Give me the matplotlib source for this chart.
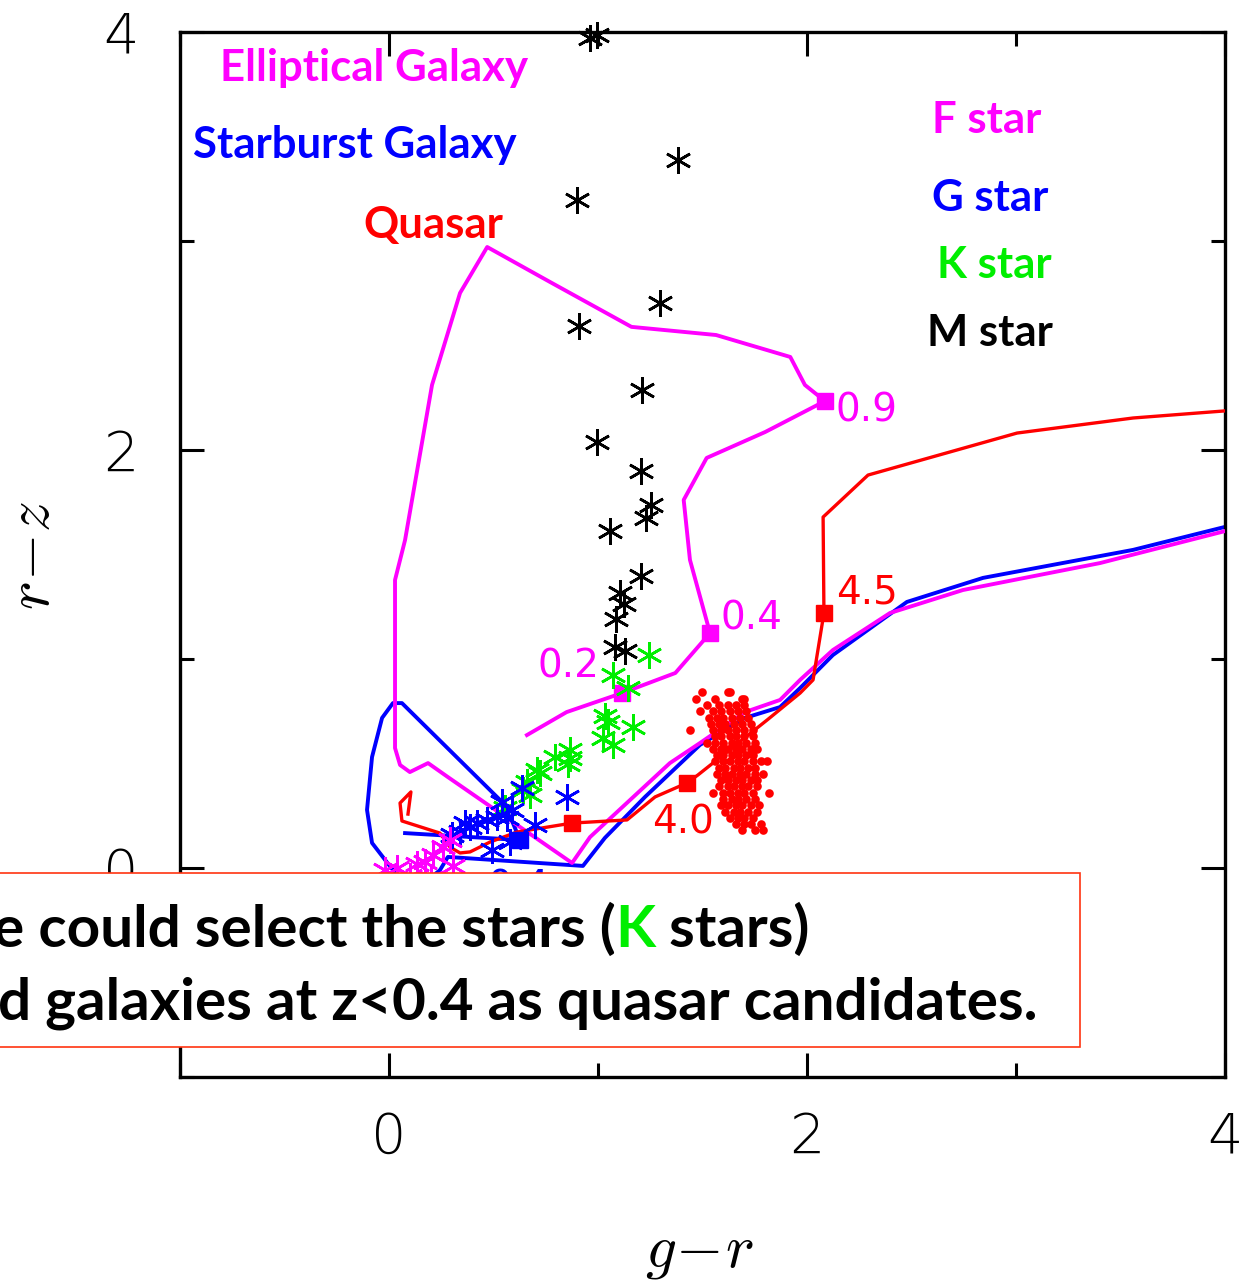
import numpy as np
import matplotlib
matplotlib.use("Agg")
import matplotlib.pyplot as plt
from matplotlib.patches import Rectangle

plt.rcParams["mathtext.fontset"] = "cm"

# --- colour tracks (g-r, r-z) ---
ell_gr = [0.66, 0.85, 1.115, 1.37, 1.536, 1.44, 1.41, 1.52, 1.80, 2.086, 1.99, 1.92,
          1.565, 1.16, 0.77, 0.47, 0.34, 0.206, 0.077, 0.029, 0.029, 0.053, 0.10,
          0.187, 0.282, 0.876, 0.962, 1.344, 1.488, 1.703, 1.871, 1.967, 2.124,
          2.397, 2.746, 3.402, 4.0]
ell_rz = [0.636, 0.746, 0.837, 0.933, 1.124, 1.474, 1.761, 1.962, 2.086, 2.234, 2.311,
          2.445, 2.55, 2.589, 2.804, 2.971, 2.751, 2.311, 1.569, 1.378, 0.574, 0.493,
          0.459, 0.502, 0.435, 0.024, 0.148, 0.502, 0.598, 0.746, 0.804, 0.90, 1.043,
          1.22, 1.33, 1.459, 1.612]
ell_sq_gr = [1.115, 1.536, 2.086]
ell_sq_rz = [0.837, 1.124, 2.234]

sb_gr = [0.077, 0.627, 0.593, 0.541, 0.062, 0.019, -0.033, -0.081, -0.105, -0.081,
         0.019, 0.10, 0.244, 0.282, 0.928, 1.033, 1.225, 1.488, 1.703, 1.871, 1.967,
         2.124, 2.478, 2.842, 3.56, 4.0]
sb_rz = [0.167, 0.134, 0.215, 0.316, 0.789, 0.789, 0.718, 0.531, 0.278, 0.12,
         -0.01, -0.129, -0.01, 0.053, 0.01, 0.144, 0.34, 0.589, 0.718, 0.77, 0.861,
         1.019, 1.273, 1.388, 1.522, 1.632]
sb_sq_gr = [0.627]
sb_sq_rz = [0.134]

qso_gr = [0.091, 0.105, 0.053, 0.062, 0.244, 0.292, 0.34, 0.388, 0.483, 0.612, 0.876,
          1.139, 1.273, 1.426, 1.478, 1.809, 1.967, 2.029, 2.081, 2.077, 2.292, 3.005,
          3.56, 4.0]
qso_rz = [0.258, 0.364, 0.311, 0.225, 0.167, 0.10, 0.072, 0.077, 0.124, 0.172, 0.215,
          0.23, 0.34, 0.407, 0.445, 0.708, 0.837, 0.90, 1.22, 1.679, 1.88, 2.081,
          2.153, 2.187]
qso_sq_gr = [0.876, 1.426, 2.081]
qso_sq_rz = [0.215, 0.407, 1.22]

# --- stellar loci ---
m_gr = [0.962, 0.995, 1.383, 0.90, 1.297, 0.909, 1.211, 0.995, 1.206, 1.254, 1.23,
        1.057, 1.206, 1.105, 1.124, 1.086, 1.081, 1.129]
m_rz = [3.971, 3.986, 3.388, 3.196, 2.703, 2.593, 2.287, 2.038, 1.90, 1.737, 1.675,
        1.612, 1.397, 1.316, 1.263, 1.191, 1.057, 1.038]
k_gr = [1.244, 1.072, 1.144, 1.033, 1.048, 1.167, 1.024, 1.072, 0.866, 0.866, 0.856,
        0.794, 0.722, 0.708, 0.66, 0.641, 0.675, 0.555]
k_rz = [1.019, 0.923, 0.861, 0.727, 0.699, 0.675, 0.622, 0.589, 0.565, 0.526, 0.498,
        0.531, 0.455, 0.469, 0.411, 0.373, 0.349, 0.287]
g_gr = [0.636, 0.541, 0.589, 0.852, 0.699, 0.565, 0.517, 0.469, 0.421, 0.388, 0.364,
        0.34, 0.493, 0.579, 0.301]
g_rz = [0.383, 0.316, 0.278, 0.34, 0.206, 0.239, 0.244, 0.23, 0.215, 0.196, 0.215,
        0.172, 0.086, 0.124, 0.158]
f_gr = [0.292, 0.258, 0.211, 0.172, 0.134, 0.306, 0.038, -0.02, 0.10, 0.20]
f_rz = [0.134, 0.10, 0.062, 0.029, 0.019, 0.01, 0.0, -0.01, -0.04, -0.05]

# --- quasar candidates cloud, read row by row ---
cloud_rows = {
    0.84: [1.50, 1.62, 1.63],
    0.81: [1.47, 1.56, 1.69, 1.70],
    0.78: [1.52, 1.58, 1.62, 1.66, 1.70],
    0.75: [1.49, 1.55, 1.59, 1.63, 1.67, 1.71],
    0.72: [1.53, 1.57, 1.60, 1.64, 1.68, 1.72],
    0.69: [1.54, 1.58, 1.61, 1.65, 1.69, 1.73],
    0.66: [1.44, 1.55, 1.59, 1.62, 1.66, 1.70, 1.74],
    0.63: [1.56, 1.59, 1.63, 1.66, 1.70, 1.74],
    0.60: [1.52, 1.56, 1.60, 1.64, 1.67, 1.71, 1.75],
    0.57: [1.55, 1.59, 1.62, 1.66, 1.69, 1.73, 1.76],
    0.54: [1.57, 1.60, 1.64, 1.67, 1.71, 1.74],
    0.51: [1.56, 1.60, 1.63, 1.67, 1.70, 1.74, 1.78, 1.81],
    0.48: [1.58, 1.61, 1.65, 1.68, 1.72, 1.75],
    0.45: [1.57, 1.61, 1.64, 1.68, 1.71, 1.75, 1.79],
    0.42: [1.59, 1.62, 1.66, 1.69, 1.73, 1.76],
    0.39: [1.58, 1.62, 1.65, 1.69, 1.72, 1.76],
    0.36: [1.55, 1.60, 1.63, 1.67, 1.70, 1.74, 1.82],
    0.33: [1.60, 1.64, 1.67, 1.71, 1.75],
    0.30: [1.59, 1.62, 1.66, 1.69, 1.73, 1.77],
    0.27: [1.61, 1.65, 1.68, 1.72, 1.76],
    0.24: [1.63, 1.67, 1.70, 1.74],
    0.21: [1.66, 1.70, 1.73, 1.78],
    0.18: [1.69, 1.75, 1.79],
}
cloud_gr = [x for y, xs in cloud_rows.items() for x in xs]
cloud_rz = [y for y, xs in cloud_rows.items() for x in xs]

MAG, BLUE, RED, GREEN = "#ff00ff", "#0000ff", "#ff0000", "#00ee00"
AST = (6, 2, 0)
LABEL_FONT = ["Lato", "DejaVu Sans"]
NUM_FONT = ["DejaVu Sans"]

fig = plt.figure(figsize=(12.47, 12.88), dpi=100)
ax = fig.add_axes([0.1443, 0.1638, 0.8381, 0.8114])
ax.set_xlim(-1, 4)
ax.set_ylim(-1, 4)

# tracks
ax.plot(ell_gr, ell_rz, "-", color=MAG, lw=2.8, zorder=3)
ax.plot(sb_gr, sb_rz, "-", color=BLUE, lw=2.8, zorder=2)
ax.plot(qso_gr, qso_rz, "-", color=RED, lw=2.4, zorder=3)
ax.plot(ell_sq_gr, ell_sq_rz, "s", color=MAG, ms=11, zorder=4)
ax.plot(sb_sq_gr, sb_sq_rz, "s", color=BLUE, ms=11, zorder=4)
ax.plot(qso_sq_gr, qso_sq_rz, "s", color=RED, ms=12, zorder=4)

# stars
for gr, rz, c in [(m_gr, m_rz, "black"), (k_gr, k_rz, GREEN),
                  (g_gr, g_rz, BLUE), (f_gr, f_rz, MAG)]:
    ax.plot(gr, rz, ls="none", marker=AST, ms=19, mew=1.9, color=c, zorder=5,
            clip_on=False)

ax.plot(cloud_gr, cloud_rz, "o", color=RED, ms=6.2, mew=0, zorder=6)

# redshift labels
num_kw = dict(family=NUM_FONT, fontsize=28, va="center", ha="left")
ax.text(0.713, 0.962, "0.2", color=MAG, **num_kw)
ax.text(1.584, 1.196, "0.4", color=MAG, **num_kw)
ax.text(2.134, 2.19, "0.9", color=MAG, **num_kw)
ax.text(2.139, 1.316, "4.5", color=RED, **num_kw)
ax.text(1.258, 0.22, "4.0", color=RED, **num_kw)
ax.text(0.47, 0.0, "0.4", color=BLUE, family=NUM_FONT, fontsize=28, va="top", ha="left")

# category names
lab_kw = dict(family=LABEL_FONT, fontsize=31.5, fontweight="bold", va="center", ha="left")
ax.text(-0.809, 3.828, "Elliptical Galaxy", color=MAG, **lab_kw)
ax.text(-0.938, 3.459, "Starburst Galaxy", color=BLUE, **lab_kw)
ax.text(-0.124, 3.077, "Quasar", color=RED, **lab_kw)
ax.text(2.598, 3.579, "F star", color=MAG, **lab_kw)
ax.text(2.598, 3.206, "G star", color=BLUE, **lab_kw)
ax.text(2.622, 2.885, "K star", color=GREEN, **lab_kw)
ax.text(2.574, 2.560, "M star", color="black", **lab_kw)

# axes styling
ax.set_xticks([0, 2, 4])
ax.set_yticks([0, 2, 4])
ax.set_xticks([-1, 1, 3], minor=True)
ax.set_yticks([-1, 1, 3], minor=True)
ax.tick_params(which="both", direction="in", top=True, right=True, width=2.2,
               labelsize=40, color="black")
ax.tick_params(which="major", length=17)
ax.tick_params(which="minor", length=10)
ax.tick_params(axis="x", pad=24)
ax.tick_params(axis="y", pad=30)
for lbl in ax.get_xticklabels() + ax.get_yticklabels():
    lbl.set_family(NUM_FONT)
    lbl.set_fontweight("light")
for sp in ax.spines.values():
    sp.set_linewidth(2.4)

fig.text(0.561, 0.028, r"$g\!-\!r$", fontsize=44, ha="center", va="center")
fig.text(0.026, 0.569, r"$r\!-\!z$", fontsize=44, ha="center", va="center", rotation=90)

# overlay note box
fig.add_artist(Rectangle((-0.02, 0.187), 0.886, 0.135,
                         transform=fig.transFigure, facecolor="white",
                         edgecolor="#ff3311", lw=1.2, zorder=5))
note_kw = dict(family=LABEL_FONT, fontsize=42, fontweight="bold", va="baseline",
               ha="left", zorder=6)
pieces = [("e could select the stars (", "black"), ("K", GREEN), (" stars)", "black")]
renderer = fig.canvas.get_renderer()
x = -0.006
for s, c in pieces:
    t = fig.text(x, 0.2648, s, color=c, **note_kw)
    ext = t.get_window_extent(renderer)
    x = fig.transFigure.inverted().transform((ext.x1, ext.y0))[0]
fig.text(-0.002, 0.2081, "d galaxies at z<0.4 as quasar candidates.", color="black",
         **note_kw)

fig.savefig("out.png", dpi=100)
